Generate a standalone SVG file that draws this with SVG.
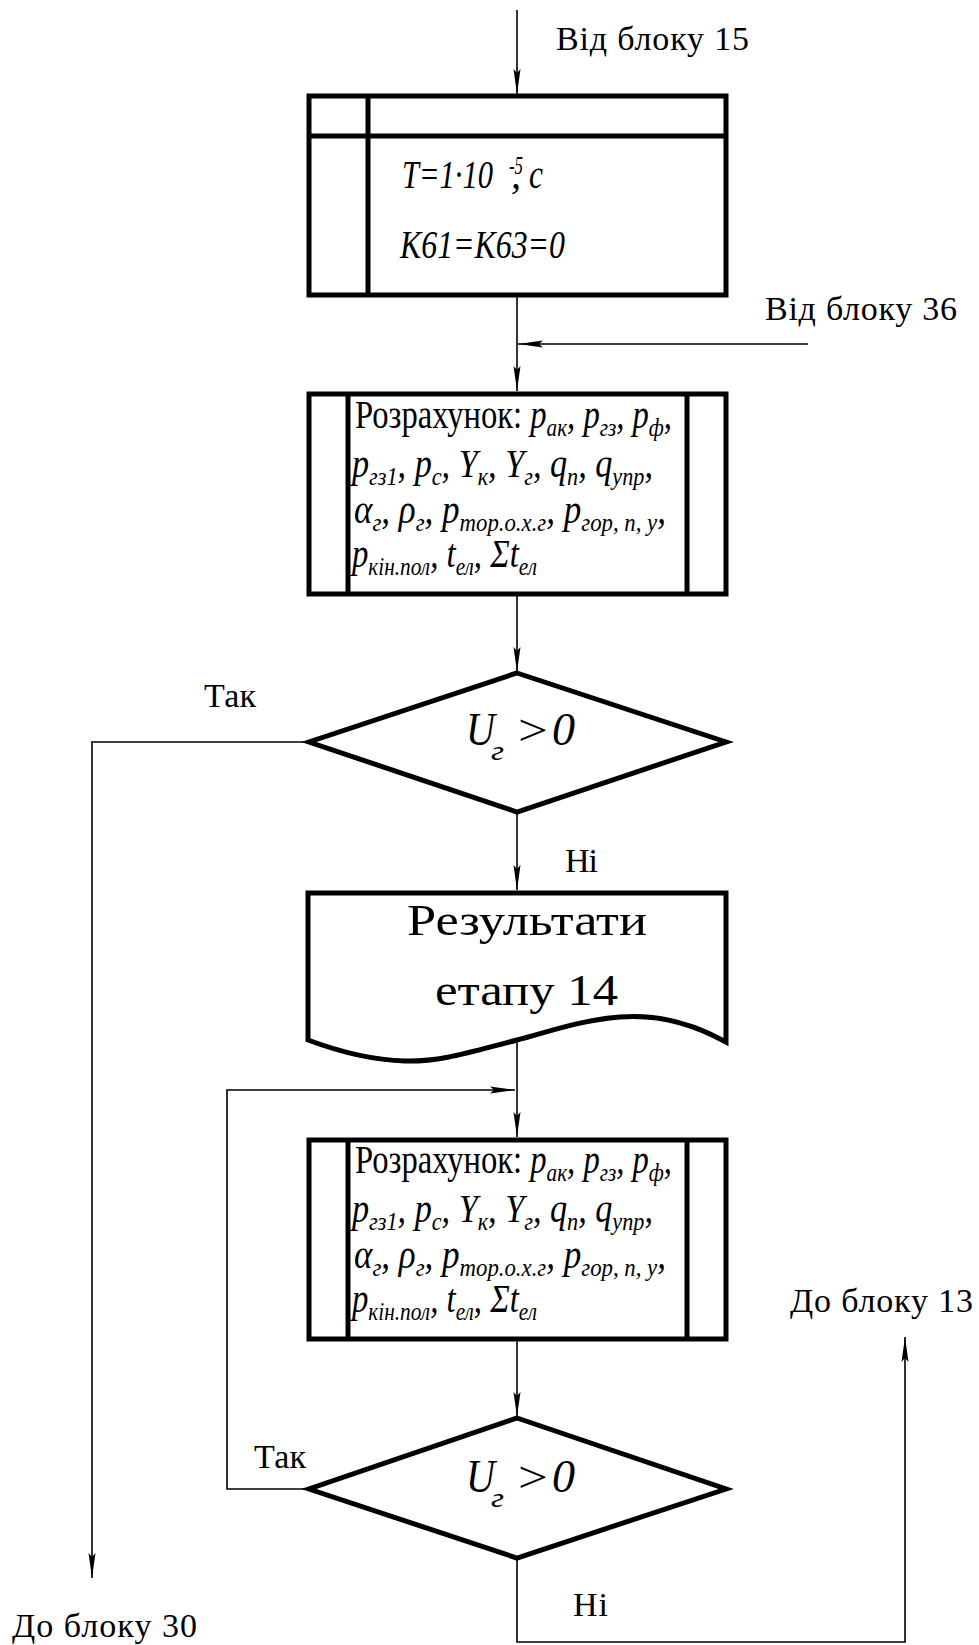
<svg xmlns="http://www.w3.org/2000/svg" width="979" height="1645" viewBox="0 0 979 1645">
<style>
.blk{fill:#fff;stroke:#000;stroke-width:5;stroke-linejoin:miter}
.ln{stroke:#000;stroke-width:5;fill:none}
.c{stroke:#000;stroke-width:1.6;fill:none}
.lbl{font-family:"Liberation Serif","Times New Roman",serif;font-size:34px;fill:#000}
.m{font-family:"Liberation Serif","Times New Roman",serif;font-size:40px;font-style:italic;fill:#000}
.up{font-style:normal}
.s{font-size:26px}
.big{font-family:"Liberation Serif","Times New Roman",serif;font-size:45px;fill:#000}
.u{font-size:46px}
.ug{font-size:27px}
.sup{font-size:25px}
</style>
<defs>
<marker id="ah" markerWidth="26" markerHeight="8" refX="25" refY="4" orient="auto" markerUnits="userSpaceOnUse">
<path d="M0,0.5 L25,4 L0,7.5 L4,4 Z" fill="#000"/>
</marker>
</defs>
<rect width="979" height="1645" fill="#fff"/>

<g id="connectors">
<path class="c" d="M517,10 V94" marker-end="url(#ah)"/>
<path class="c" d="M517,297 V391" marker-end="url(#ah)"/>
<path class="c" d="M808,344 H518" marker-end="url(#ah)"/>
<path class="c" d="M517,596 V672" marker-end="url(#ah)"/>
<path class="c" d="M309,742 H92 V1578" marker-end="url(#ah)"/>
<path class="c" d="M517,812 V890" marker-end="url(#ah)"/>
<path class="c" d="M517,1041 V1137" marker-end="url(#ah)"/>
<path class="c" d="M309,1489 H227 V1090 H515" marker-end="url(#ah)"/>
<path class="c" d="M517,1341 V1417" marker-end="url(#ah)"/>
<path class="c" d="M517,1558 V1642 H905 V1337" marker-end="url(#ah)"/>
</g>

<g id="lbl-top">
<text class="lbl" x="556" y="50" textLength="193" lengthAdjust="spacing">Від блоку 15</text>
</g>
<g id="lbl-36">
<text class="lbl" x="765" y="320" textLength="192" lengthAdjust="spacing">Від блоку 36</text>
</g>

<g id="node-init">
<rect class="blk" x="309" y="96" width="417" height="199"/>
<line class="ln" x1="368" y1="96" x2="368" y2="295"/>
<line class="ln" x1="309" y1="136" x2="726" y2="136"/>
<text class="m" x="402" y="188" textLength="91" lengthAdjust="spacingAndGlyphs">T=1·10</text>
<text class="m sup" x="509" y="174" textLength="14" lengthAdjust="spacingAndGlyphs">-5</text>
<text class="m" x="511" y="188">,</text>
<text class="m" x="529" y="188" textLength="14" lengthAdjust="spacingAndGlyphs">c</text>
<text class="m" x="400" y="258" textLength="165" lengthAdjust="spacingAndGlyphs">K61=K63=0</text>
</g>

<g id="node-calc1">
<rect class="blk" x="309" y="394" width="417" height="200"/>
<line class="ln" x1="348" y1="394" x2="348" y2="594"/>
<line class="ln" x1="687" y1="394" x2="687" y2="594"/>
<text class="m" x="355" y="428" textLength="317" lengthAdjust="spacingAndGlyphs"><tspan class="up">Розрахунок: </tspan>p<tspan class="s" dy="8">ак</tspan><tspan dy="-8">, p</tspan><tspan class="s" dy="8">гз</tspan><tspan dy="-8">, p</tspan><tspan class="s" dy="8">ф</tspan><tspan dy="-8">,</tspan></text>
<text class="m" x="352" y="477" textLength="301" lengthAdjust="spacingAndGlyphs">p<tspan class="s" dy="8">гз1</tspan><tspan dy="-8">, p</tspan><tspan class="s" dy="8">с</tspan><tspan dy="-8">, Y</tspan><tspan class="s" dy="8">к</tspan><tspan dy="-8">, Y</tspan><tspan class="s" dy="8">г</tspan><tspan dy="-8">, q</tspan><tspan class="s" dy="8">п</tspan><tspan dy="-8">, q</tspan><tspan class="s" dy="8">упр</tspan><tspan dy="-8">,</tspan></text>
<text class="m" x="354" y="523" textLength="312" lengthAdjust="spacingAndGlyphs">α<tspan class="s" dy="8">г</tspan><tspan dy="-8">, ρ</tspan><tspan class="s" dy="8">г</tspan><tspan dy="-8">,  p</tspan><tspan class="s" dy="8">тор.о.х.г</tspan><tspan dy="-8">, p</tspan><tspan class="s" dy="8">гор, п, у</tspan><tspan dy="-8">,</tspan></text>
<text class="m" x="352" y="567" textLength="185" lengthAdjust="spacingAndGlyphs">p<tspan class="s" dy="8">кін.пол</tspan><tspan dy="-8">, t</tspan><tspan class="s" dy="8">ел</tspan><tspan dy="-8">, Σt</tspan><tspan class="s" dy="8">ел</tspan></text>
</g>

<g id="node-dec1">
<polygon class="blk" points="517,673 726,742 517,812 309,742"/>
<text class="m u" x="466" y="745" textLength="29" lengthAdjust="spacingAndGlyphs">U</text>
<text class="m ug" x="491" y="760" textLength="13" lengthAdjust="spacingAndGlyphs">г</text>
<text class="big" x="518" y="745" textLength="30" lengthAdjust="spacingAndGlyphs">&gt;</text>
<text class="m u" x="552" y="745" textLength="23" lengthAdjust="spacingAndGlyphs">0</text>
</g>
<g id="lbl-yes1"><text class="lbl" x="204" y="707" textLength="52" lengthAdjust="spacing">Так</text></g>
<g id="lbl-no1"><text class="lbl" x="565" y="872" textLength="33" lengthAdjust="spacing">Ні</text></g>

<g id="node-results">
<path class="blk" d="M308,1040 V893 H726 V1042 C690,1022 655,1014 620,1017 C580,1020 545,1033 517,1040 C470,1052 440,1062 405,1061 C370,1060 340,1052 308,1040 Z"/>
<text class="big" x="407" y="935" textLength="240" lengthAdjust="spacingAndGlyphs">Результати</text>
<text class="big" x="435" y="1005" textLength="183" lengthAdjust="spacingAndGlyphs">етапу 14</text>
</g>

<g id="node-calc2">
<rect class="blk" x="309" y="1140" width="417" height="199"/>
<line class="ln" x1="348" y1="1140" x2="348" y2="1339"/>
<line class="ln" x1="687" y1="1140" x2="687" y2="1339"/>
<text class="m" x="355" y="1173" textLength="317" lengthAdjust="spacingAndGlyphs"><tspan class="up">Розрахунок: </tspan>p<tspan class="s" dy="8">ак</tspan><tspan dy="-8">, p</tspan><tspan class="s" dy="8">гз</tspan><tspan dy="-8">, p</tspan><tspan class="s" dy="8">ф</tspan><tspan dy="-8">,</tspan></text>
<text class="m" x="352" y="1222" textLength="301" lengthAdjust="spacingAndGlyphs">p<tspan class="s" dy="8">гз1</tspan><tspan dy="-8">, p</tspan><tspan class="s" dy="8">с</tspan><tspan dy="-8">, Y</tspan><tspan class="s" dy="8">к</tspan><tspan dy="-8">, Y</tspan><tspan class="s" dy="8">г</tspan><tspan dy="-8">, q</tspan><tspan class="s" dy="8">п</tspan><tspan dy="-8">, q</tspan><tspan class="s" dy="8">упр</tspan><tspan dy="-8">,</tspan></text>
<text class="m" x="354" y="1268" textLength="312" lengthAdjust="spacingAndGlyphs">α<tspan class="s" dy="8">г</tspan><tspan dy="-8">, ρ</tspan><tspan class="s" dy="8">г</tspan><tspan dy="-8">,  p</tspan><tspan class="s" dy="8">тор.о.х.г</tspan><tspan dy="-8">, p</tspan><tspan class="s" dy="8">гор, п, у</tspan><tspan dy="-8">,</tspan></text>
<text class="m" x="352" y="1312" textLength="185" lengthAdjust="spacingAndGlyphs">p<tspan class="s" dy="8">кін.пол</tspan><tspan dy="-8">, t</tspan><tspan class="s" dy="8">ел</tspan><tspan dy="-8">, Σt</tspan><tspan class="s" dy="8">ел</tspan></text>
</g>

<g id="node-dec2">
<polygon class="blk" points="517,1418 726,1489 517,1558 309,1489"/>
<text class="m u" x="466" y="1492" textLength="29" lengthAdjust="spacingAndGlyphs">U</text>
<text class="m ug" x="491" y="1507" textLength="13" lengthAdjust="spacingAndGlyphs">г</text>
<text class="big" x="518" y="1492" textLength="30" lengthAdjust="spacingAndGlyphs">&gt;</text>
<text class="m u" x="552" y="1492" textLength="23" lengthAdjust="spacingAndGlyphs">0</text>
</g>
<g id="lbl-yes2"><text class="lbl" x="254" y="1468" textLength="52" lengthAdjust="spacing">Так</text></g>
<g id="lbl-no2"><text class="lbl" x="573" y="1616" textLength="35" lengthAdjust="spacing">Ні</text></g>
<g id="lbl-13"><text class="lbl" x="790" y="1312" textLength="183" lengthAdjust="spacing">До блоку 13</text></g>
<g id="lbl-30"><text class="lbl" x="12" y="1637" textLength="185" lengthAdjust="spacing">До блоку 30</text></g>
</svg>
